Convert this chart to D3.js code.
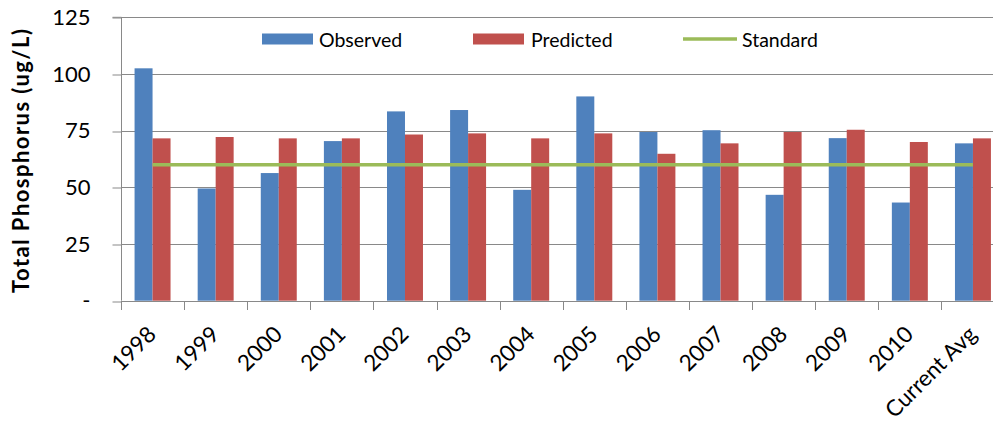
<!DOCTYPE html>
<html>
<head>
<meta charset="utf-8">
<script src="https://cdn.jsdelivr.net/npm/d3@7"></script>
<style>
  html, body { margin: 0; padding: 0; background: #fff; }
  svg { display: block; font-family: Lato, "Open Sans", sans-serif; }
</style>
</head>
<body>
<svg id="chart" width="993" height="430"></svg>
<script>
// Total phosphorus by year: observed vs. predicted, with the standard
const categories = ["1998", "1999", "2000", "2001", "2002", "2003", "2004",
                    "2005", "2006", "2007", "2008", "2009", "2010", "Current Avg"];
const observed  = [102.5, 49.5, 56.3, 70.4, 83.5, 84.1, 48.9, 90.1, 74.4, 75.2, 46.7, 71.7, 43.3, 69.4];
const predicted = [71.6, 72.2, 71.6, 71.6, 73.3, 73.8, 71.6, 73.8, 64.8, 69.4, 74.4, 75.4, 70.0, 71.6];
const standard  = [60, 60, 60, 60, 60, 60, 60, 60, 60, 60, 60, 60, 60, 60];
const yTicks = [0, 25, 50, 75, 100, 125];
const seriesNames = ["Observed", "Predicted", "Standard"];

const colors = { Observed: "#4F81BD", Predicted: "#C0504D", Standard: "#9BBB59" };
const gridColor = "#898989";

const svg = d3.select("#chart");
const m = { left: 121, top: 17.3, bottom: 300.7, right: 1004.5 };

const x = d3.scaleBand().domain(categories).range([m.left, m.right])
  .paddingInner(0.43).paddingOuter(0.215);
const xs = d3.scaleBand().domain(["Observed", "Predicted"]).range([0, x.bandwidth()]);
const y = d3.scaleLinear().domain([0, 125]).range([m.bottom, m.top]);
const step = x.step();

// horizontal gridlines
svg.append("g").selectAll("line").data(yTicks.filter(d => d > 0)).join("line")
  .attr("x1", m.left).attr("x2", m.right)
  .attr("y1", d => Math.round(y(d)) + 0.5).attr("y2", d => Math.round(y(d)) + 0.5)
  .attr("stroke", gridColor).attr("stroke-width", 1);

// y axis
const yAxis = svg.append("g").attr("transform", `translate(${Math.round(m.left) + 0.5},0)`)
  .call(d3.axisLeft(y).tickValues(yTicks).tickSize(9).tickPadding(22)
    .tickFormat(d => d === 0 ? "-" : d));
yAxis.select(".domain").attr("stroke", gridColor).attr("d", `M-9,${y(125)}H0V${y(0)}`);
yAxis.selectAll(".tick line").attr("stroke", gridColor)
  .attr("transform", d => `translate(0,${Math.round(y(d)) + 0.5 - y(d)})`);
yAxis.selectAll(".tick text").attr("font-size", 22).attr("fill", "#000")
  .attr("font-family", "Lato, sans-serif");

// bars
const groups = svg.append("g").selectAll("g").data(categories).join("g")
  .attr("transform", d => `translate(${x(d)},0)`);
groups.append("rect")
  .attr("x", xs("Observed")).attr("width", xs.bandwidth())
  .attr("y", (d, i) => y(observed[i])).attr("height", (d, i) => y(0) - y(observed[i]))
  .attr("fill", colors.Observed);
groups.append("rect")
  .attr("x", xs("Predicted")).attr("width", xs.bandwidth())
  .attr("y", (d, i) => y(predicted[i])).attr("height", (d, i) => y(0) - y(predicted[i]))
  .attr("fill", colors.Predicted);

// x axis baseline and category ticks
const xAxisG = svg.append("g");
xAxisG.append("line")
  .attr("x1", m.left).attr("x2", m.right)
  .attr("y1", Math.round(y(0)) + 0.5).attr("y2", Math.round(y(0)) + 0.5)
  .attr("stroke", gridColor);
const tickXs = d3.range(categories.length + 1).map(i => m.left + i * step);
xAxisG.selectAll("line.tk").data(tickXs).join("line").attr("class", "tk")
  .attr("x1", d => Math.round(d) + 0.5).attr("x2", d => Math.round(d) + 0.5)
  .attr("y1", Math.round(y(0))).attr("y2", Math.round(y(0)) + 9)
  .attr("stroke", gridColor);

// rotated category labels
xAxisG.selectAll("text").data(categories).join("text")
  .attr("transform", d => `translate(${x(d) + x.bandwidth() / 2 + 5},${y(0) + 35}) rotate(-45)`)
  .attr("text-anchor", "end")
  .attr("font-size", 22.5).attr("fill", "#000")
  .text(d => d);

// standard line
const line = d3.line()
  .x((d, i) => x(categories[i]) + x.bandwidth() / 2)
  .y(d => y(d));
svg.append("path").datum(standard)
  .attr("d", line).attr("fill", "none")
  .attr("stroke", colors.Standard).attr("stroke-width", 3.5);

// y axis title
svg.append("text")
  .attr("transform", `translate(29,${(y(0) + y(125)) / 2 + 2}) rotate(-90)`)
  .attr("text-anchor", "middle")
  .attr("font-size", 22).attr("font-weight", "bold").attr("fill", "#000")
  .attr("textLength", 264).attr("lengthAdjust", "spacing")
  .text("Total Phosphorus (ug/L)");

// legend
const legend = svg.append("g");
const legendItems = [
  { name: seriesNames[0], x: 262, tx: 319 },
  { name: seriesNames[1], x: 473, tx: 531 },
  { name: seriesNames[2], x: 683, tx: 742 }
];
legendItems.forEach(it => {
  if (it.name === "Standard") {
    legend.append("line").attr("x1", it.x).attr("x2", it.x + 54)
      .attr("y1", 39).attr("y2", 39)
      .attr("stroke", colors.Standard).attr("stroke-width", 3.5);
  } else {
    legend.append("rect").attr("x", it.x).attr("y", 33.5)
      .attr("width", 51).attr("height", 11).attr("fill", colors[it.name]);
  }
  legend.append("text").attr("x", it.tx).attr("y", 46.5)
    .attr("font-size", 19.5).attr("fill", "#000").text(it.name);
});
</script>
</body>
</html>
